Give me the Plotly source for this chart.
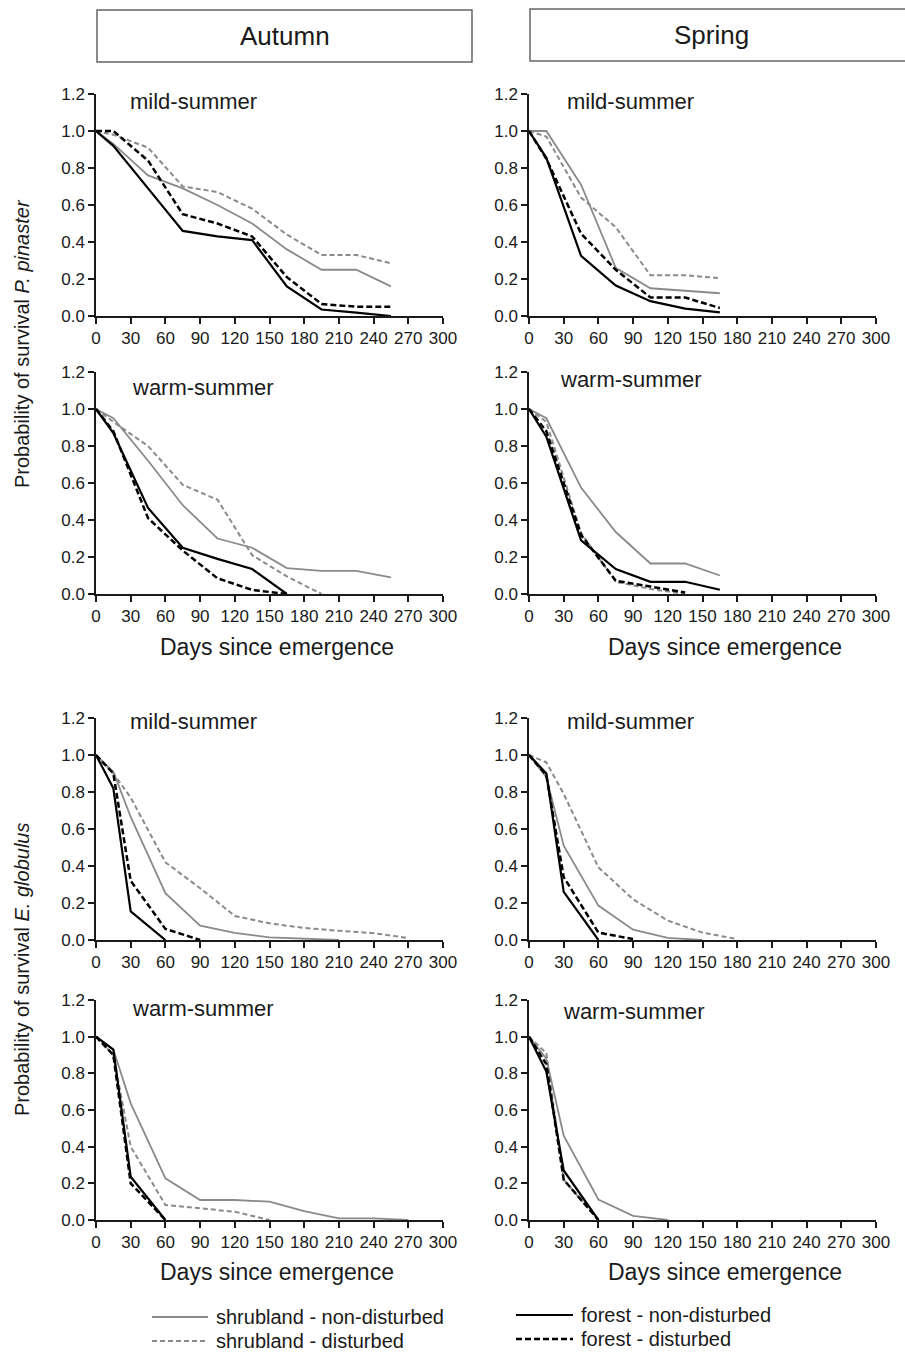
import plotly.graph_objects as go

# ---------------- data ----------------
x_ticks = [0, 30, 60, 90, 120, 150, 180, 210, 240, 270, 300]
y_ticks = [0.0, 0.2, 0.4, 0.6, 0.8, 1.0, 1.2]

# P. pinaster
pp_aut_days = [0, 15, 45, 75, 105, 135, 165, 195, 225, 255]
pp_spr_days = [0, 15, 45, 75, 105, 135, 165]

pp_aut_mild_shrub_nd = [1.0, 0.93, 0.76, 0.69, 0.60, 0.50, 0.36, 0.25, 0.25, 0.16]
pp_aut_mild_shrub_d = [1.0, 0.98, 0.91, 0.70, 0.67, 0.58, 0.44, 0.33, 0.33, 0.285]
pp_aut_mild_forest_nd = [1.0, 0.92, 0.69, 0.46, 0.43, 0.41, 0.16, 0.035, 0.018, 0.0]
pp_aut_mild_forest_d = [1.0, 1.0, 0.84, 0.55, 0.50, 0.43, 0.21, 0.065, 0.05, 0.05]

pp_spr_mild_shrub_nd = [1.0, 1.0, 0.71, 0.26, 0.15, 0.135, 0.123]
pp_spr_mild_shrub_d = [1.0, 0.97, 0.64, 0.48, 0.22, 0.22, 0.205]
pp_spr_mild_forest_nd = [1.0, 0.855, 0.325, 0.165, 0.08, 0.04, 0.02]
pp_spr_mild_forest_d = [1.0, 0.85, 0.445, 0.25, 0.10, 0.10, 0.043]

pp_aut_warm_shrub_nd = [1.0, 0.95, 0.72, 0.48, 0.30, 0.25, 0.14, 0.125, 0.125, 0.09]
pp_aut_warm_shrub_d = [1.0, 0.93, 0.80, 0.59, 0.51, 0.21, 0.095, 0.0, None, None]
pp_aut_warm_forest_nd = [1.0, 0.87, 0.465, 0.25, 0.19, 0.135, 0.0, None, None, None]
pp_aut_warm_forest_d = [1.0, 0.88, 0.41, 0.235, 0.085, 0.022, 0.0, None, None, None]

pp_spr_warm_shrub_nd = [1.0, 0.95, 0.575, 0.335, 0.165, 0.165, 0.10]
pp_spr_warm_shrub_d = [1.0, 0.93, 0.33, 0.066, 0.027, 0.0, None]
pp_spr_warm_forest_nd = [1.0, 0.85, 0.29, 0.135, 0.066, 0.066, 0.023]
pp_spr_warm_forest_d = [1.0, 0.88, 0.32, 0.072, 0.04, 0.008, None]

# E. globulus
eg_days = [0, 15, 30, 60, 90, 120, 150, 180, 210, 240, 270]

eg_aut_mild_shrub_nd = [1.0, 0.91, 0.665, 0.253, 0.078, 0.038, 0.014, 0.005, 0.0, None, None]
eg_aut_mild_shrub_d = [1.0, 0.90, 0.77, 0.42, 0.28, 0.13, 0.09, 0.065, 0.05, 0.037, 0.011]
eg_aut_mild_forest_nd = [1.0, 0.82, 0.155, 0.0, None, None, None, None, None, None, None]
eg_aut_mild_forest_d = [1.0, 0.90, 0.32, 0.06, 0.0, None, None, None, None, None, None]

eg_spr_mild_shrub_nd = [1.0, 0.88, 0.51, 0.186, 0.056, 0.011, 0.0, None, None, None, None]
eg_spr_mild_shrub_d = [1.0, 0.96, 0.79, 0.393, 0.22, 0.105, 0.04, 0.005, None, None, None]
eg_spr_mild_forest_nd = [1.0, 0.90, 0.26, 0.0, None, None, None, None, None, None, None]
eg_spr_mild_forest_d = [1.0, 0.89, 0.34, 0.04, 0.005, None, None, None, None, None, None]

eg_aut_warm_shrub_nd = [1.0, 0.93, 0.636, 0.227, 0.109, 0.109, 0.10, 0.049, 0.009, 0.009, 0.0]
eg_aut_warm_shrub_d = [1.0, 0.90, 0.40, 0.082, 0.064, 0.045, 0.0, None, None, None, None]
eg_aut_warm_forest_nd = [1.0, 0.93, 0.236, 0.0, None, None, None, None, None, None, None]
eg_aut_warm_forest_d = [1.0, 0.90, 0.20, 0.0, None, None, None, None, None, None, None]

eg_spr_warm_shrub_nd = [1.0, 0.88, 0.46, 0.112, 0.023, 0.0, None, None, None, None, None]
eg_spr_warm_shrub_d = [1.0, 0.91, 0.22, 0.0, None, None, None, None, None, None, None]
eg_spr_warm_forest_nd = [1.0, 0.81, 0.27, 0.0, None, None, None, None, None, None, None]
eg_spr_warm_forest_d = [1.0, 0.85, 0.22, 0.0, None, None, None, None, None, None, None]

series_names = ["shrubland - non-disturbed", "forest - non-disturbed",
                "shrubland - disturbed", "forest - disturbed"]
panel_labels = ["mild-summer", "warm-summer", "mild-summer", "warm-summer"]
season_titles = ["Autumn", "Spring"]
ytitles = ["Probability of survival <i>P. pinaster</i>",
           "Probability of survival <i>E. globulus</i>"]
xtitle = "Days since emergence"

# ---------------- layout geometry (pixels) ----------------
W, H = 905, 1354
FONT = "Arial, 'Liberation Sans', Helvetica, sans-serif"
INK = "#1a1a1a"

def fx(p):
    return p / W

def fy(p):
    return 1 - p / H

col_px = [(96, 443), (529, 876)]
row_px = [(94, 316), (372, 594), (718, 940), (1000, 1220)]

# panel order: (row, col, days, [shrub_nd, forest_nd, shrub_d, forest_d])
panels = [
    (0, 0, pp_aut_days, [pp_aut_mild_shrub_nd, pp_aut_mild_forest_nd, pp_aut_mild_shrub_d, pp_aut_mild_forest_d]),
    (0, 1, pp_spr_days, [pp_spr_mild_shrub_nd, pp_spr_mild_forest_nd, pp_spr_mild_shrub_d, pp_spr_mild_forest_d]),
    (1, 0, pp_aut_days, [pp_aut_warm_shrub_nd, pp_aut_warm_forest_nd, pp_aut_warm_shrub_d, pp_aut_warm_forest_d]),
    (1, 1, pp_spr_days, [pp_spr_warm_shrub_nd, pp_spr_warm_forest_nd, pp_spr_warm_shrub_d, pp_spr_warm_forest_d]),
    (2, 0, eg_days, [eg_aut_mild_shrub_nd, eg_aut_mild_forest_nd, eg_aut_mild_shrub_d, eg_aut_mild_forest_d]),
    (2, 1, eg_days, [eg_spr_mild_shrub_nd, eg_spr_mild_forest_nd, eg_spr_mild_shrub_d, eg_spr_mild_forest_d]),
    (3, 0, eg_days, [eg_aut_warm_shrub_nd, eg_aut_warm_forest_nd, eg_aut_warm_shrub_d, eg_aut_warm_forest_d]),
    (3, 1, eg_days, [eg_spr_warm_shrub_nd, eg_spr_warm_forest_nd, eg_spr_warm_shrub_d, eg_spr_warm_forest_d]),
]

styles = [
    dict(color="#8a8a8a", width=1.8, dash="solid"),
    dict(color="#000000", width=2.2, dash="solid"),
    dict(color="#8a8a8a", width=2.0, dash="5px,3px"),
    dict(color="#000000", width=2.5, dash="6px,3px"),
]
draw_order = [0, 2, 1, 3]  # gray below, black on top

fig = go.Figure()
layout_axes = {}
for i, (r, c, days, vals) in enumerate(panels):
    n = i + 1
    xa = "x" if n == 1 else f"x{n}"
    ya = "y" if n == 1 else f"y{n}"
    for k in draw_order:
        fig.add_trace(go.Scatter(
            x=days, y=vals[k], mode="lines", xaxis=xa, yaxis=ya,
            line=styles[k], name=series_names[k], showlegend=False,
            connectgaps=False, hoverinfo="skip"))
    x0, x1 = col_px[c]
    y0, y1 = row_px[r]
    common = dict(showline=True, linecolor=INK, linewidth=1.5, ticks="outside",
                  ticklen=6, tickwidth=1.5, tickcolor=INK, showgrid=False,
                  zeroline=False, automargin=False,
                  tickfont=dict(family=FONT, size=17, color=INK))
    layout_axes["xaxis" if n == 1 else f"xaxis{n}"] = dict(
        domain=[fx(x0), fx(x1)], range=[0, 300], tickvals=x_ticks,
        anchor=ya, **common)
    layout_axes["yaxis" if n == 1 else f"yaxis{n}"] = dict(
        domain=[fy(y1), fy(y0)], range=[0, 1.2], tickvals=y_ticks,
        tickformat=".1f", anchor=xa, **common)

annotations = []
shapes = []

# season header boxes
boxes = [(97, 472, 10, 62, 285, 36), (530, 915, 9, 61, 711, 35)]
for (bx0, bx1, by0, by1, tx, ty), title in zip(boxes, season_titles):
    shapes.append(dict(type="rect", xref="paper", yref="paper",
                       x0=fx(bx0), x1=fx(bx1), y0=fy(by1), y1=fy(by0),
                       line=dict(color="#666666", width=1.5), fillcolor="white"))
    annotations.append(dict(text=title, xref="paper", yref="paper", x=fx(tx), y=fy(ty),
                            showarrow=False, xanchor="center", yanchor="middle",
                            font=dict(family=FONT, size=26, color=INK)))

# panel labels
label_pos = [[(128, 101), (565, 101)], [(130, 387), (558, 380)],
             [(128, 721), (565, 721)], [(130, 1008), (561, 1011)]]
for r in range(4):
    for c in range(2):
        lx, ly = label_pos[r][c]
        annotations.append(dict(text=panel_labels[r], xref="paper", yref="paper",
                                x=fx(lx), y=fy(ly), showarrow=False,
                                xanchor="left", yanchor="middle",
                                font=dict(family=FONT, size=22, color=INK)))

# x-axis titles
for ty in (647, 1272):
    for tx in (277, 725):
        annotations.append(dict(text=xtitle, xref="paper", yref="paper",
                                x=fx(tx), y=fy(ty), showarrow=False,
                                xanchor="center", yanchor="middle",
                                font=dict(family=FONT, size=23, color=INK)))

# y-axis titles
for ty, t in zip((344, 969), ytitles):
    annotations.append(dict(text=t, xref="paper", yref="paper",
                            x=fx(22), y=fy(ty), showarrow=False, textangle=-90,
                            xanchor="center", yanchor="middle",
                            font=dict(family=FONT, size=20, color=INK)))

# legend (manual, two columns)
legend_pos = [(152, 208, 1317), (516, 573, 1315), (152, 208, 1341), (516, 573, 1339)]
for k, (lx0, lx1, ly) in enumerate(legend_pos):
    shapes.append(dict(type="line", xref="paper", yref="paper",
                       x0=fx(lx0), x1=fx(lx1), y0=fy(ly), y1=fy(ly),
                       line=dict(color=styles[k]["color"], width=styles[k]["width"],
                                 dash=styles[k]["dash"])))
    annotations.append(dict(text=series_names[k], xref="paper", yref="paper",
                            x=fx(lx1 + 6), y=fy(ly), showarrow=False,
                            xanchor="left", yanchor="middle",
                            font=dict(family=FONT, size=20, color=INK)))

fig.update_layout(
    width=W, height=H,
    margin=dict(l=0, r=0, t=0, b=0, autoexpand=False),
    paper_bgcolor="white", plot_bgcolor="white",
    font=dict(family=FONT, color=INK),
    showlegend=False,
    shapes=shapes, annotations=annotations,
    **layout_axes,
)

fig.write_html(
    "out.html",
    config={"displayModeBar": False},
    post_script="document.body.style.margin='0';document.body.style.overflow='hidden';",
)
